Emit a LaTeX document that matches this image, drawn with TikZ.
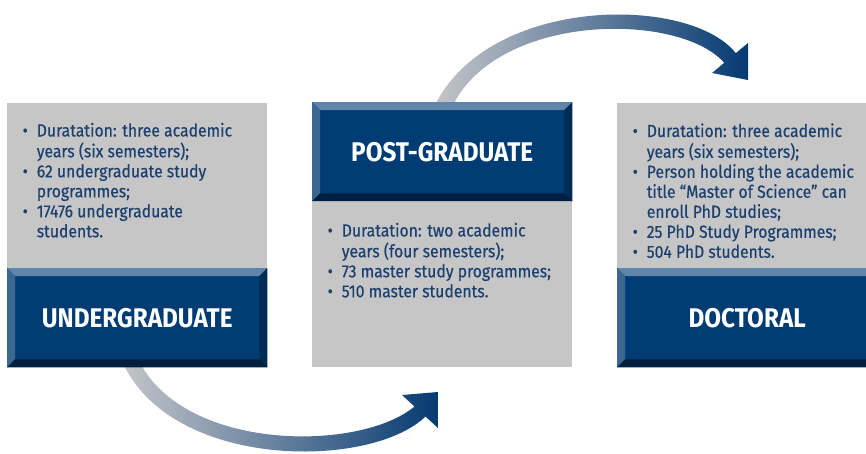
\documentclass[tikz,border=0pt]{standalone}
\usepackage{fontspec}
\setmainfont{Fira Sans}[FakeStretch=0.9]
\newfontfamily\listfont{Fira Sans}[FakeStretch=0.9, FakeBold=0.4]
\usetikzlibrary{calc}

\definecolor{boxgray}{HTML}{C6C6C6}
\definecolor{capblue}{HTML}{003C74}
\definecolor{bevtop}{HTML}{5F86AA}
\definecolor{bevleft}{HTML}{3C6791}
\definecolor{bevright}{HTML}{002B55}
\definecolor{bevbottom}{HTML}{001E3E}
\definecolor{textblue}{HTML}{1B3F6E}
\definecolor{arrowgray}{HTML}{C4C5C9}
\definecolor{arrowblue}{HTML}{053A72}

% bevelled edges round a title box
\newcommand\bevel[1]{%
  \fill[bevtop] (#1.north west) -- (#1.north east) -- ([shift={(-8,8)}]#1.north east) -- ([shift={(8,8)}]#1.north west) -- cycle;
  \fill[bevleft] (#1.north west) -- ([shift={(8,8)}]#1.north west) -- ([shift={(8,-8)}]#1.south west) -- (#1.south west) -- cycle;
  \fill[bevright] (#1.north east) -- ([shift={(-8,8)}]#1.north east) -- ([shift={(-8,-8)}]#1.south east) -- (#1.south east) -- cycle;
  \fill[bevbottom] (#1.south west) -- ([shift={(8,-8)}]#1.south west) -- ([shift={(-8,-8)}]#1.south east) -- (#1.south east) -- cycle;
}
\newcommand\blt{\textbullet}

\begin{document}
\begin{tikzpicture}[x=1pt, y=-1pt,
  infobox/.style={fill=boxgray, minimum width=260pt, minimum height=165pt, inner sep=0pt, anchor=north west},
  titlebox/.style={fill=capblue, minimum width=260pt, minimum height=99pt, inner sep=0pt, anchor=north west,
    text=white, font=\bfseries\fontsize{27}{30}\selectfont},
  listtext/.style={inner sep=0pt, anchor=base west, text=textblue, font=\listfont\fontsize{17.5}{20}\selectfont}]

  \clip (0,0) rectangle (866,453);
  \fill[white] (0,0) rectangle (866,453);

  %%%%% arrows %%%%%
  \shade[left color=arrowgray, right color=arrowblue]
    (122,361) .. controls (170,470) and (370,470) .. (425.5,416.5)
    -- (438,428) -- (438,392) -- (402,395) -- (414.5,406.5)
    .. controls (360,452) and (185,452) .. (139,361) -- cycle;

  \shade[left color=arrowgray, right color=arrowblue]
    (435,105) .. controls (490,-5) and (690,-5) .. (735.8,53.2)
    -- (748,43) -- (748,80) -- (712,73) -- (724.2,62.8)
    .. controls (680,12) and (500,12) .. (453,105) -- cycle;

  %%%%% undergraduate %%%%%
  \node[infobox] (ugInfo) at (7,103) {};
  \node[titlebox] (ugTitle) at (7,268) {UNDERGRADUATE};
  \bevel{ugTitle}
  \node[listtext] (ugList) at (22.5,136.5) {\begin{tabular}[t]{@{}c@{\hspace{9pt}}l@{}}
    \blt & Duratation: three academic\\
         & years (six semesters);\\
    \blt & 62 undergraduate study\\
         & programmes;\\
    \blt & 17476 undergraduate\\
         & students.
  \end{tabular}};

  %%%%% post-graduate %%%%%
  \node[titlebox] (pgTitle) at (312,102) {POST-GRADUATE};
  \bevel{pgTitle}
  \node[infobox] (pgInfo) at (312,202) {};
  \node[listtext] (pgList) at (327.5,236.5) {\begin{tabular}[t]{@{}c@{\hspace{9pt}}l@{}}
    \blt & Duratation: two academic\\
         & years (four semesters);\\
    \blt & 73 master study programmes;\\
    \blt & 510 master students.
  \end{tabular}};

  %%%%% doctoral %%%%%
  \node[infobox] (phdInfo) at (617,103) {};
  \node[titlebox] (phdTitle) at (617,268) {DOCTORAL};
  \bevel{phdTitle}
  \node[listtext] (phdList) at (632.5,137) {\begin{tabular}[t]{@{}c@{\hspace{9pt}}l@{}}
    \blt & Duratation: three academic\\
         & years (six semesters);\\
    \blt & Person holding the academic\\
         & title “Master of Science” can\\
         & enroll PhD studies;\\
    \blt & 25 PhD Study Programmes;\\
    \blt & 504 PhD students.
  \end{tabular}};

\end{tikzpicture}
\end{document}
